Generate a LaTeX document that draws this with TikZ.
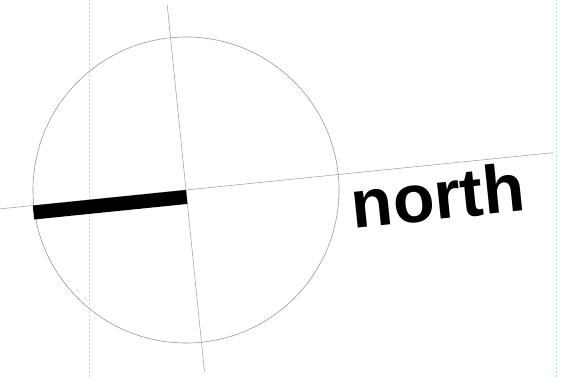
\documentclass[tikz,border=0pt]{standalone}
\usepackage{fontspec}
\newfontfamily\labelfont{Liberation Sans}
\tikzset{
    guide/.style={cyan!35, dashed, dash pattern=on 2pt off 2pt, line width=0.6pt},
    hairline/.style={gray!80, line width=0.5pt},
    needle/.style={black, line width=14pt},
}
\begin{document}
\begin{tikzpicture}[x=1pt, y=1pt]

        % Frame
        \useasboundingbox (0,0) rectangle (573,377);

        % Guides
        \draw[guide] (89,0) -- (89,377);
        \draw[guide] (556,0) -- (556,377);

        \begin{scope}[shift={(186,187)}, rotate=5.8]

        % Dial
        \coordinate (c) at (0,0);
        \node[circle, draw, gray!80, line width=0.6pt, minimum size=306pt, inner sep=0pt] (dial) at (c) {};

        % Cross
        \coordinate (w) at (-187,0);
        \coordinate (e) at (369,0);
        \coordinate (n) at (0,186);
        \coordinate (s) at (0,-183);
        \draw[hairline] (w) -- (e);
        \draw[hairline] (n) -- (s);

        % Needle
        \coordinate (tip) at (-154,-7);
        \coordinate (hub) at (0,-7);
        \draw[needle] (tip) -- (hub);

        % Label
        \node[anchor=base west, rotate=5.8, inner sep=0pt] (label) at (163,-55)
            {\labelfont\bfseries\fontsize{68}{68}\selectfont north};

        \end{scope}

    \end{tikzpicture}
\end{document}
